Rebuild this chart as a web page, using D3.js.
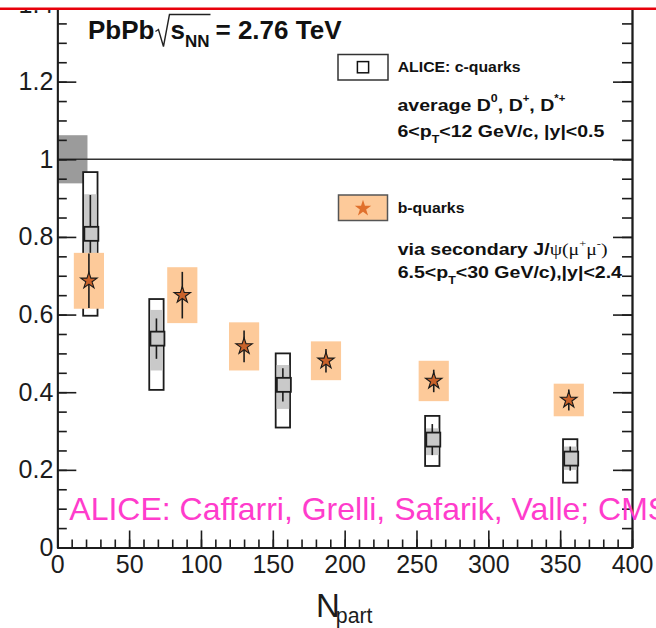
<!DOCTYPE html>
<html>
<head>
<meta charset="utf-8">
<script src="https://cdn.jsdelivr.net/npm/d3@7"></script>
<style>
  html, body { margin: 0; padding: 0; background: #fff; }
  svg { display: block; }
  text { white-space: pre; }
</style>
</head>
<body>
<svg id="chart" width="656" height="628"></svg>
<script>
// ALICE average D0, D+, D*+ (c-quarks): R_AA vs N_part
const cNpart = [23, 69, 157, 261, 357];
const cRaa = [0.808, 0.538, 0.419, 0.278, 0.229];
const cStat = [0.100, 0.052, 0.043, 0.040, 0.031];
const cSystLow = [0.710, 0.456, 0.357, 0.238, 0.200];
const cSystHigh = [0.910, 0.612, 0.470, 0.307, 0.260];
const cOuterLow = [0.597, 0.406, 0.309, 0.210, 0.167];
const cOuterHigh = [0.967, 0.640, 0.500, 0.339, 0.279];

// CMS non-prompt J/psi (b-quarks): R_AA vs N_part
const bNpart = [22, 87, 130, 187, 262, 356];
const bRaa = [0.687, 0.650, 0.518, 0.481, 0.429, 0.380];
const bStat = [0.070, 0.060, 0.041, 0.030, 0.029, 0.027];
const bSyst = [0.072, 0.072, 0.062, 0.050, 0.052, 0.042];

// global normalisation uncertainty around unity
const normValue = 1.0;
const normUnc = 0.062;
const normNpartWidth = 21;

// axis ticks
const xMajorTicks = [0, 50, 100, 150, 200, 250, 300, 350, 400];
const xMinorTicks = d3.range(0, 401, 10);
const yMajorTicks = [0, 0.2, 0.4, 0.6, 0.8, 1.0, 1.2, 1.4];
const yTickLabels = ["0", "0.2", "0.4", "0.6", "0.8", "1", "1.2", "1.4"];
const yMinorTicks = d3.range(0, 29).map(i => i * 0.05);

const svg = d3.select("#chart");
const W = 656, H = 628;
svg.append("rect").attr("width", W).attr("height", H).attr("fill", "#fff");

const padL = 57.3, padR = 632, padB = 547.5, padT = 4;
const x = d3.scaleLinear().domain([0, 400]).range([padL, padR]);
const y = d3.scaleLinear().domain([0, 1.4]).range([padB, padT]);

const ink = "#1c1c1c";
const plot = svg.append("g");

// normalisation box and unity line
plot.append("rect")
  .attr("x", x(0)).attr("width", x(normNpartWidth) - x(0))
  .attr("y", y(normValue + normUnc)).attr("height", y(normValue - normUnc) - y(normValue + normUnc))
  .attr("fill", "#9b9b9b");
plot.append("line")
  .attr("x1", x(0)).attr("x2", x(400)).attr("y1", y(normValue)).attr("y2", y(normValue))
  .attr("stroke", "#333").attr("stroke-width", 1.5);

// c-quark points
const cHalf = 5, cGrayHalf = 4.4;
const cData = cNpart.map((n, i) => ({n, v: cRaa[i], s: cStat[i], lo: cSystLow[i], hi: cSystHigh[i], olo: cOuterLow[i], ohi: cOuterHigh[i]}));
const cG = plot.append("g");
cG.selectAll("rect.outer").data(cData).join("rect").attr("class", "outer")
  .attr("x", d => x(d.n - cHalf)).attr("width", d => x(d.n + cHalf) - x(d.n - cHalf))
  .attr("y", d => y(d.ohi)).attr("height", d => y(d.olo) - y(d.ohi))
  .attr("fill", "#fff").attr("stroke", ink).attr("stroke-width", 1.8);
cG.selectAll("rect.syst").data(cData).join("rect").attr("class", "syst")
  .attr("x", d => x(d.n - cGrayHalf)).attr("width", d => x(d.n + cGrayHalf) - x(d.n - cGrayHalf))
  .attr("y", d => y(d.hi)).attr("height", d => y(d.lo) - y(d.hi))
  .attr("fill", "#c9c9c9");
cG.selectAll("line.err").data(cData).join("line").attr("class", "err")
  .attr("x1", d => x(d.n)).attr("x2", d => x(d.n))
  .attr("y1", d => y(d.v + d.s)).attr("y2", d => y(d.v - d.s))
  .attr("stroke", ink).attr("stroke-width", 1.6);
const sq = 14;
cG.selectAll("rect.mark").data(cData).join("rect").attr("class", "mark")
  .attr("x", d => x(d.n) - sq / 2 + 1).attr("y", d => y(d.v) - sq / 2)
  .attr("width", sq).attr("height", sq)
  .attr("fill", "#c9c9c9").attr("stroke", ink).attr("stroke-width", 1.8);

// b-quark points
const bHalf = 10.5;
const bData = bNpart.map((n, i) => ({n, v: bRaa[i], s: bStat[i], sy: bSyst[i]}));
const bG = plot.append("g");
bG.selectAll("rect.syst").data(bData).join("rect").attr("class", "syst")
  .attr("x", d => x(d.n - bHalf)).attr("width", d => x(d.n + bHalf) - x(d.n - bHalf))
  .attr("y", d => y(d.v + d.sy)).attr("height", d => y(d.v - d.sy) - y(d.v + d.sy))
  .attr("fill", "#fdca9a");
bG.selectAll("line.err").data(bData).join("line").attr("class", "err")
  .attr("x1", d => x(d.n)).attr("x2", d => x(d.n))
  .attr("y1", d => y(d.v + d.s)).attr("y2", d => y(d.v - d.s))
  .attr("stroke", ink).attr("stroke-width", 1.6);
const star = d3.symbol().type(d3.symbolStar).size(84);
bG.selectAll("path.star").data(bData).join("path").attr("class", "star")
  .attr("d", star)
  .attr("transform", d => `translate(${x(d.n)},${y(d.v)})`)
  .attr("fill", "#c9622a").attr("stroke", "#1a1a1a").attr("stroke-width", 1.1);

// axes
const axG = svg.append("g");
function styleAxis(g) {
  g.selectAll("line").attr("stroke", ink).attr("stroke-width", 1.6);
  g.select(".domain").attr("stroke", ink).attr("stroke-width", 1.8);
  g.selectAll("text").attr("font-family", "Liberation Sans, Arial, sans-serif")
    .attr("font-size", 25).attr("fill", ink);
}
// left
axG.append("g").attr("transform", `translate(${padL},0)`)
  .call(d3.axisLeft(y).tickValues(yMinorTicks).tickFormat("").tickSizeInner(-9.5).tickSizeOuter(0))
  .call(styleAxis);
axG.append("g").attr("transform", `translate(${padL},0)`)
  .call(d3.axisLeft(y).tickValues(yMajorTicks).tickFormat((d, i) => yTickLabels[i]).tickSizeInner(-19).tickSizeOuter(0).tickPadding(4))
  .call(styleAxis);
// right
axG.append("g").attr("transform", `translate(${padR},0)`)
  .call(d3.axisRight(y).tickValues(yMinorTicks).tickFormat("").tickSizeInner(-10).tickSizeOuter(0))
  .call(styleAxis);
axG.append("g").attr("transform", `translate(${padR},0)`)
  .call(d3.axisRight(y).tickValues(yMajorTicks).tickFormat("").tickSizeInner(-19).tickSizeOuter(0))
  .call(styleAxis);
// bottom
axG.append("g").attr("transform", `translate(0,${padB})`)
  .call(d3.axisBottom(x).tickValues(xMinorTicks).tickFormat("").tickSizeInner(-8).tickSizeOuter(0))
  .call(styleAxis);
axG.append("g").attr("transform", `translate(0,${padB})`)
  .call(d3.axisBottom(x).tickValues(xMajorTicks).tickFormat(d3.format("d")).tickSizeInner(-17).tickSizeOuter(0).tickPadding(8))
  .call(styleAxis);

// text helper: pieces laid out left to right
function runText(parent, x0, y0, pieces, sx) {
  const g = parent.append("g").attr("transform", `translate(${x0},${y0}) scale(${sx || 1},1)`);
  let cx = 0;
  pieces.forEach(p => {
    cx += p.dx || 0;
    const t = g.append("text")
      .attr("x", cx).attr("y", p.dy || 0)
      .attr("font-family", p.family || "Liberation Sans, Arial, sans-serif")
      .attr("font-size", p.size)
      .attr("font-weight", p.weight || "bold")
      .attr("fill", p.fill || "#111")
      .text(p.text);
    cx += t.node().getComputedTextLength();
  });
  return cx;
}

const txt = svg.append("g");

// title with square root
(function () {
  const tx = 88, ty = 38.5, fs = 26;
  const g = txt.append("g");
  let cx = tx;
  const t1 = g.append("text").attr("x", cx).attr("y", ty).attr("font-family", "Liberation Sans, Arial, sans-serif")
    .attr("font-size", fs).attr("font-weight", "bold").attr("fill", "#111").text("PbPb");
  cx += t1.node().getComputedTextLength() + 1;
  const rx = cx;
  cx += 15;
  const t2 = g.append("text").attr("x", cx).attr("y", ty).attr("font-family", "Liberation Sans, Arial, sans-serif")
    .attr("font-size", fs).attr("font-weight", "bold").attr("fill", "#111").text("s");
  cx += t2.node().getComputedTextLength();
  const t3 = g.append("text").attr("x", cx).attr("y", ty + 8).attr("font-family", "Liberation Sans, Arial, sans-serif")
    .attr("font-size", 17).attr("font-weight", "bold").attr("fill", "#111").text("NN");
  cx += t3.node().getComputedTextLength();
  g.append("path")
    .attr("d", `M${rx},${ty - 7} L${rx + 3},${ty - 9} L${rx + 8},${ty + 8} L${rx + 14},${ty - 24} H${cx + 1}`)
    .attr("fill", "none").attr("stroke", "#222").attr("stroke-width", 1.4);
  cx += 6;
  g.append("text").attr("x", cx).attr("y", ty).attr("font-family", "Liberation Sans, Arial, sans-serif")
    .attr("font-size", fs).attr("font-weight", "bold").attr("fill", "#111").text("= 2.76 TeV");
})();

// legend: c-quarks
const leg = txt.append("g");
leg.append("rect").attr("x", 338).attr("y", 54.5).attr("width", 50).attr("height", 25.5)
  .attr("fill", "#fff").attr("stroke", "#333").attr("stroke-width", 1.5);
leg.append("rect").attr("x", 363 - 5.6).attr("y", 67.2 - 5.6).attr("width", 11.2).attr("height", 11.2)
  .attr("fill", "none").attr("stroke", "#111").attr("stroke-width", 1.5);
const LS = 1.13, LF = 17.3;
runText(leg, 397.7, 71.7, [{text: "ALICE: c-quarks", size: 14}], LS);
runText(leg, 397.5, 111, [
  {text: "average D", size: LF},
  {text: "0", size: 11, dy: -9.5},
  {text: ", D", size: LF},
  {text: "+", size: 10, dy: -9.5},
  {text: ", D", size: LF},
  {text: "*+", size: 10, dy: -9.5}
], LS);
runText(leg, 397.5, 136.7, [
  {text: "6<p", size: LF},
  {text: "T", size: 11, dy: 6},
  {text: "<12 GeV/c, |y|<0.5", size: LF}
], LS);

// legend: b-quarks
leg.append("rect").attr("x", 338.5).attr("y", 195).attr("width", 49).attr("height", 25.5)
  .attr("fill", "#fdca9a").attr("stroke", "#555").attr("stroke-width", 1.5);
leg.append("path").attr("d", d3.symbol().type(d3.symbolStar).size(84)())
  .attr("transform", "translate(363,208.5)").attr("fill", "#e0702c");
runText(leg, 397.7, 213.3, [{text: "b-quarks", size: 14}], LS);
runText(leg, 397.7, 255, [
  {text: "via secondary J/", size: LF},
  {text: "\u03C8(\u03BC", size: 17.5, weight: "normal", family: "Liberation Serif, serif"},
  {text: "+", size: 11, dy: -8, weight: "normal", family: "Liberation Serif, serif"},
  {text: "\u03BC", size: 17.5, weight: "normal", family: "Liberation Serif, serif"},
  {text: "-", size: 11, dy: -8, weight: "normal", family: "Liberation Serif, serif"},
  {text: ")", size: 17.5, weight: "normal", family: "Liberation Serif, serif"}
], LS);
runText(leg, 397.7, 278, [
  {text: "6.5<p", size: LF},
  {text: "T", size: 11, dy: 6},
  {text: "<30 GeV/c),|y|<2.4", size: LF}
], LS);

// credits
txt.append("text").attr("x", 69.3).attr("y", 520)
  .attr("font-family", "Liberation Sans, Arial, sans-serif").attr("font-size", 32)
  .attr("fill", "#ff3ccc").text("ALICE: Caffarri, Grelli, Safarik, Valle; CMS");

// x-axis title N_part
(function () {
  const nx = 316, ny = 617.3;
  const n = txt.append("text").attr("x", nx).attr("y", ny)
    .attr("font-family", "Liberation Sans, Arial, sans-serif").attr("font-size", 33).attr("fill", ink).text("N");
  const w = n.node().getComputedTextLength();
  txt.append("text").attr("x", nx + w - 4).attr("y", ny + 6)
    .attr("font-family", "Liberation Sans, Arial, sans-serif").attr("font-size", 21.3).attr("fill", ink).text("part");
})();

// slide border strip across the top
svg.append("rect").attr("x", 0).attr("y", 0).attr("width", W).attr("height", 8).attr("fill", "#fff");
svg.append("line").attr("x1", 0).attr("x2", W).attr("y1", 8.7).attr("y2", 8.7)
  .attr("stroke", "#e8000b").attr("stroke-width", 2.5);
</script>
</body>
</html>
